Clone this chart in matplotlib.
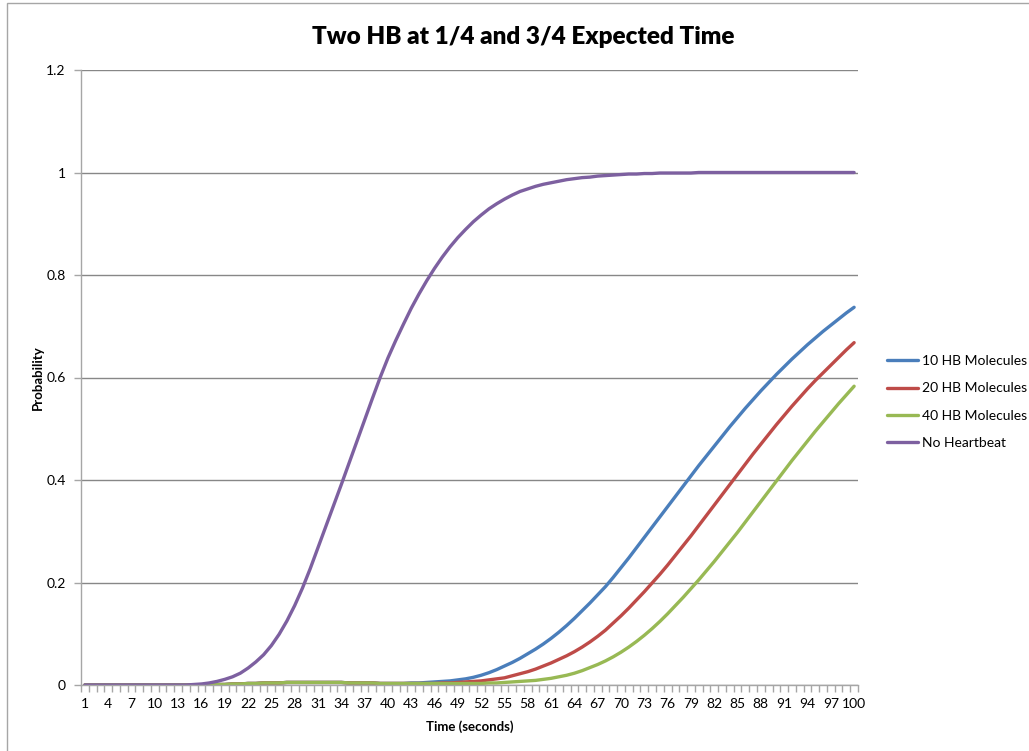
import matplotlib
matplotlib.use("Agg")
import matplotlib.pyplot as plt
from matplotlib.patches import Rectangle

plt.rcParams["font.family"] = ["Lato", "DejaVu Sans"]

# time steps (seconds)
time_s = list(range(1, 101))

# shared small bump of the heartbeat runs between t=18 and t=42
bump = [0.001, 0.001, 0.002, 0.002, 0.003, 0.003, 0.004, 0.004, 0.004, 0.005,
        0.005, 0.005, 0.005, 0.005, 0.005, 0.005, 0.005, 0.004, 0.004, 0.004,
        0.004, 0.003, 0.003, 0.003, 0.003]

hb10 = [0.0] * 17 + bump + [
    0.004, 0.004, 0.005, 0.006, 0.007, 0.008, 0.010, 0.012, 0.015, 0.019,
    0.024, 0.030, 0.037, 0.044, 0.052, 0.061, 0.070, 0.080, 0.091, 0.103,
    0.116, 0.130, 0.145, 0.160, 0.176, 0.192, 0.210, 0.229, 0.248, 0.268,
    0.288, 0.308, 0.328, 0.348, 0.368, 0.388, 0.408, 0.428, 0.447, 0.466,
    0.485, 0.504, 0.522, 0.540, 0.557, 0.574, 0.590, 0.606, 0.621, 0.636,
    0.650, 0.664, 0.677, 0.690, 0.702, 0.714, 0.726, 0.737]

hb20 = [0.0] * 17 + bump + [
    0.003, 0.003, 0.003, 0.003, 0.004, 0.004, 0.005, 0.006, 0.007, 0.008,
    0.010, 0.012, 0.014, 0.018, 0.022, 0.026, 0.031, 0.037, 0.043, 0.050,
    0.057, 0.065, 0.074, 0.084, 0.095, 0.107, 0.121, 0.135, 0.150, 0.166,
    0.182, 0.199, 0.216, 0.234, 0.253, 0.272, 0.291, 0.311, 0.331, 0.351,
    0.371, 0.391, 0.411, 0.431, 0.451, 0.470, 0.489, 0.508, 0.526, 0.544,
    0.561, 0.578, 0.594, 0.609, 0.624, 0.639, 0.654, 0.668]

hb40 = [0.0] * 17 + bump + [
    0.003, 0.003, 0.003, 0.003, 0.003, 0.003, 0.003, 0.003, 0.003, 0.003,
    0.004, 0.004, 0.005, 0.006, 0.007, 0.008, 0.009, 0.011, 0.013, 0.016,
    0.019, 0.023, 0.028, 0.034, 0.040, 0.047, 0.055, 0.064, 0.074, 0.085,
    0.097, 0.110, 0.124, 0.139, 0.155, 0.171, 0.188, 0.205, 0.223, 0.241,
    0.260, 0.279, 0.298, 0.318, 0.338, 0.358, 0.378, 0.398, 0.418, 0.438,
    0.457, 0.476, 0.495, 0.513, 0.531, 0.549, 0.566, 0.583]

no_hb = [0.0] * 14 + [
    0.001, 0.002, 0.004, 0.007, 0.011, 0.016, 0.023, 0.033, 0.045, 0.059,
    0.077, 0.099, 0.125, 0.155, 0.189, 0.227, 0.268, 0.309, 0.350, 0.391,
    0.433, 0.475, 0.517, 0.559, 0.600, 0.638, 0.672, 0.704, 0.735, 0.763,
    0.789, 0.813, 0.835, 0.855, 0.873, 0.889, 0.904, 0.917, 0.929, 0.939,
    0.948, 0.956, 0.963, 0.968, 0.973, 0.977, 0.980, 0.983, 0.986, 0.988,
    0.990, 0.991, 0.993, 0.994, 0.995, 0.996, 0.997, 0.997, 0.998, 0.998,
    0.999, 0.999, 0.999, 0.999, 0.999, 1.0, 1.0, 1.0, 1.0, 1.0,
    1.0, 1.0, 1.0, 1.0, 1.0, 1.0, 1.0, 1.0, 1.0, 1.0,
    1.0, 1.0, 1.0, 1.0, 1.0, 1.0]

series_names = ["10 HB Molecules", "20 HB Molecules", "40 HB Molecules", "No Heartbeat"]
series_colors = ["#4A7EBB", "#BE4B48", "#98B954", "#7D60A0"]

W, H = 1029, 751
fig = plt.figure(figsize=(W / 100, H / 100), dpi=100)
fig.patches.append(Rectangle((7 / W, -0.1), 1.2, 1.1 - 3 / H,
                             transform=fig.transFigure, fill=False,
                             edgecolor="#A6A6A6", linewidth=1))

ax = fig.add_axes([81 / W, 1 - 685 / H, 777 / W, 615 / H])

for vals, name, col in zip([hb10, hb20, hb40, no_hb], series_names, series_colors):
    ax.plot(time_s, vals, color=col, linewidth=2.4, label=name,
            solid_capstyle="round", solid_joinstyle="round")

ax.set_xlim(0.5, 100.5)
ax.set_ylim(0, 1.2)
ax.set_yticks([0, 0.2, 0.4, 0.6, 0.8, 1.0, 1.2])
ax.set_yticklabels(["0", "0.2", "0.4", "0.6", "0.8", "1", "1.2"])
ax.set_xticks(time_s[::3])
ax.set_xticklabels([str(t) for t in time_s[::3]])
ax.set_xticks([t + 0.5 for t in range(0, 101)], minor=True)
ax.tick_params(axis="x", which="major", length=0, pad=9, labelsize=10)
ax.tick_params(axis="x", which="minor", length=5, color="#A6A6A6", width=1)
ax.tick_params(axis="y", length=5, color="#A6A6A6", width=1, pad=6, labelsize=10)

ax.yaxis.grid(True, color="#878787", linewidth=1)
ax.set_axisbelow(True)
for side in ["top", "right"]:
    ax.spines[side].set_visible(False)
for side in ["left", "bottom"]:
    ax.spines[side].set_color("#A6A6A6")
    ax.spines[side].set_linewidth(1)

ax.set_xlabel("Time (seconds)", fontsize=9.5, fontweight="bold", labelpad=8)
ax.set_ylabel("Probability", fontsize=9.5, fontweight="bold", labelpad=2)

fig.text(523 / W, 1 - 37 / H, "Two HB at 1/4 and 3/4 Expected Time",
         ha="center", va="center", fontsize=17.5, fontweight="heavy")

fig.legend(loc="center left", bbox_to_anchor=(887 / W, 1 - 402 / H),
           frameon=False, fontsize=10, handlelength=2.2, handletextpad=0.3,
           labelspacing=1.1, borderpad=0, borderaxespad=0)

fig.savefig("out.png", dpi=100)
